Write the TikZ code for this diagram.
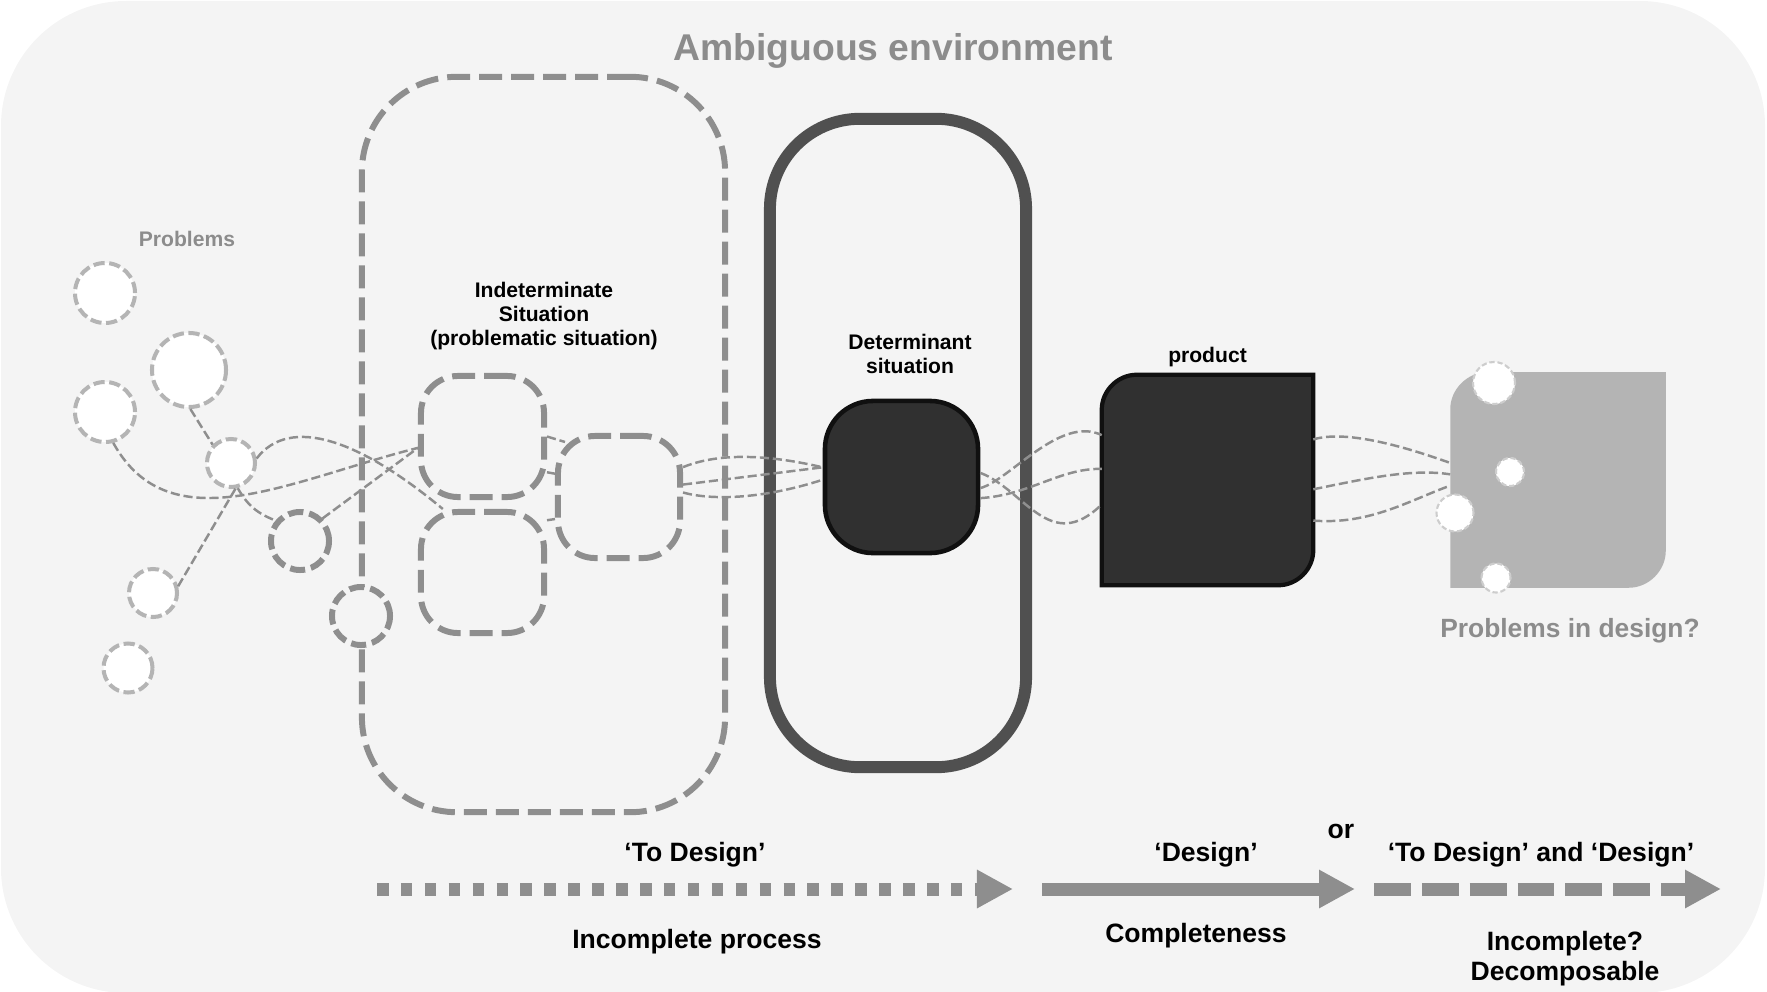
\documentclass[tikz,border=0pt]{standalone}
\usepackage{fontspec}
\setmainfont{Liberation Sans}
\usetikzlibrary{positioning, arrows.meta}
\definecolor{bgcol}{RGB}{244,244,244}
\definecolor{linecol}{RGB}{142,142,142}
\definecolor{probcol}{RGB}{180,180,180}
\definecolor{framecol}{RGB}{80,80,80}
\definecolor{solidcol}{RGB}{48,48,48}
\definecolor{edgecol}{RGB}{16,16,16}
\definecolor{labelcol}{RGB}{140,140,140}
\definecolor{flawcol}{RGB}{205,205,205}

\begin{document}
\begin{tikzpicture}[x=0.01cm, y=-0.01cm,
      prob/.style={circle,fill=white,draw=probcol,line width=1.14pt,dash pattern=on 3.2pt off 1.3pt,inner sep=0pt},
      probdark/.style={circle,fill=bgcol,draw=linecol,line width=1.7pt,dash pattern=on 4.3pt off 1.7pt,inner sep=0pt,minimum size=0.58cm},
      sitbox/.style={rectangle,rounded corners=0.37cm,draw=linecol,line width=1.7pt,dash pattern=on 6.5pt off 2.6pt,inner sep=0pt},
      link/.style={draw=linecol,line width=0.7pt,dash pattern=on 2.6pt off 1.1pt},
      flaw/.style={circle,fill=white,draw=flawcol,line width=0.6pt,dash pattern=on 1.5pt off 0.8pt,inner sep=0pt},
      smalltxt/.style={font=\fontsize{6}{6.9}\selectfont\bfseries,align=center,inner sep=0pt},
      flowtxt/.style={font=\fontsize{7.55}{8.5}\selectfont\bfseries,align=center,inner sep=0pt},
      flow/.style={linecol,line width=3.7pt,-{Triangle[length=3.6mm,width=3.6mm]}}]
    \useasboundingbox (0,0) rectangle (1767,991);
    \fill[bgcol, rounded corners=1.25cm] (1,1) rectangle (1765,993);
    \node[font=\fontsize{10.6}{12}\selectfont\bfseries, text=labelcol] (amb) at (893,51) {Ambiguous environment};

    % frames
    \node[sitbox, rounded corners=0.95cm, minimum width=3.63cm, minimum height=7.35cm] (indet) at (543.5,444.5) {};
    \node[rectangle, rounded corners=0.9cm, draw=framecol, line width=3.4pt, minimum width=2.56cm, minimum height=6.48cm] (detframe) at (898,443) {};
    \node[smalltxt] (indetlbl) at (544,316) {Indeterminate\\Situation\\(problematic situation)};
    \node[smalltxt] (detlbl) at (910,354) {Determinant\\situation};

    % problems
    \node[smalltxt, text=labelcol] (problbl) at (187,239) {Problems};
    \node[prob, minimum size=0.60cm] (p1) at (105,293) {};
    \node[prob, minimum size=0.74cm] (p2) at (189,370) {};
    \node[prob, minimum size=0.60cm] (p3) at (105,412) {};
    \node[prob, minimum size=0.48cm] (p4) at (231,463) {};
    \node[probdark] (p5) at (300,541) {};
    \node[probdark] (p6) at (361,616) {};
    \node[prob, minimum size=0.48cm] (p7) at (153,593) {};
    \node[prob, minimum size=0.49cm] (p8) at (128,668) {};

    \node[sitbox, minimum width=1.23cm, minimum height=1.21cm] (s1) at (482.5,436.5) {};
    \node[sitbox, minimum width=1.23cm, minimum height=1.21cm] (s2) at (482.5,572.5) {};
    \node[sitbox, minimum width=1.22cm, minimum height=1.22cm] (s3) at (619,497) {};

    \node[rectangle, rounded corners=0.48cm, fill=solidcol, draw=edgecol, line width=1.3pt, minimum width=1.53cm, minimum height=1.52cm] (det) at (901.5,477) {};

    % product
    \node[inner sep=0pt, minimum width=2.1cm, minimum height=2.09cm] (prod) at (1207.5,480) {};
    \filldraw[fill=solidcol, draw=edgecol, line width=1.2pt] (prod.south west) -- ([yshift=-0.35cm]prod.north west)
      .. controls +(0,0.19cm) and +(-0.19cm,0) .. ([xshift=0.35cm]prod.north west) -- (prod.north east)
      -- ([yshift=0.35cm]prod.south east) .. controls +(0,-0.19cm) and +(0.19cm,0) .. ([xshift=-0.35cm]prod.south east) -- cycle;
    \node[smalltxt, above=0.07cm of prod] (prodlbl) {product};

    % problems in design
    \node[inner sep=0pt, minimum width=2.14cm, minimum height=2.14cm] (flawbox) at (1558,480) {};
    \fill[probcol] (flawbox.south west) -- ([yshift=-0.37cm]flawbox.north west)
      .. controls +(0,0.2cm) and +(-0.2cm,0) .. ([xshift=0.37cm]flawbox.north west) -- (flawbox.north east)
      -- ([yshift=0.37cm]flawbox.south east) .. controls +(0,-0.2cm) and +(0.2cm,0) .. ([xshift=-0.37cm]flawbox.south east) -- cycle;
    \node[flaw, minimum size=0.42cm] (f1) at (1494,383) {};
    \node[flaw, minimum size=0.28cm] (f2) at (1510,472) {};
    \node[flaw, minimum size=0.37cm] (f3) at (1455,513) {};
    \node[flaw, minimum size=0.29cm] (f4) at (1496,578) {};
    \node[font=\fontsize{7.5}{9}\selectfont\bfseries, text=labelcol] (flawlbl) at (1570,631) {Problems in design?};

    % links
    \draw[link] (p3.-75) .. controls (170,545) and (290,480) .. (s1.190);
    \draw[link] (p4.10) .. controls (290,415) and (360,440) .. (s2.122);
    \draw[link] (p4.-75) to[bend right=20] (p5.140);
    \draw[link] (p7.15) -- (p4.-80);
    \draw[link] (p2.-88) -- (p4.135);
    \draw[link] (p5.45) -- (s1.190);
    \draw[link] (s1.east) -- ([xshift=0.1cm,yshift=-0.09cm]s3.north west);
    \draw[link] (s1.-29) -- (s3.160);
    \draw[link] (s2.39) -- (s3.199);
    \draw[link] (s3.25) .. controls (720,452) and (770,455) .. (det.173);
    \draw[link] (s3.11) -- (det.173);
    \draw[link] (s3.4) .. controls (710,500) and (760,500) .. (det.182);
    \draw[link] (det.3) .. controls (1025,490) and (1050,555) .. (prod.193);
    \draw[link] (det.-8) .. controls (1010,480) and (1060,415) .. (prod.157);
    \draw[link] (det.-15) .. controls (1030,495) and (1060,468) .. (prod.174);
    \draw[link] (prod.21) .. controls (1345,430) and (1400,445) .. (flawbox.171);
    \draw[link] (prod.-5) .. controls (1360,480) and (1410,468) .. (flawbox.177);
    \draw[link] (prod.-21) .. controls (1370,525) and (1410,500) .. (flawbox.183);

    % process arrows
    \coordinate (tdstart) at (377,889);
    \coordinate (tdend) at (1013,889);
    \coordinate (dstart) at (1042,889);
    \coordinate (dend) at (1355,889);
    \coordinate (bothstart) at (1374,889);
    \coordinate (bothend) at (1721,889);
    \draw[flow, dash pattern=on 3.27pt off 3.53pt] (tdstart) -- (tdend);
    \draw[flow] (dstart) -- (dend);
    \draw[flow, dash pattern=on 10.5pt off 3.1pt] (bothstart) -- (bothend);
    \node[flowtxt] (tdlbl) at (695,855) {‘To Design’};
    \node[flowtxt] (tdnote) at (697,942) {Incomplete process};
    \node[flowtxt] (dlbl) at (1206,855) {‘Design’};
    \node[flowtxt] (dnote) at (1196,936) {Completeness};
    \node[flowtxt] (orlbl) at (1341,831) {or};
    \node[flowtxt] (bothlbl) at (1541,855) {‘To Design’ and ‘Design’};
    \node[flowtxt] (bothnote) at (1565,959) {Incomplete?\\Decomposable};
  \end{tikzpicture}
\end{document}
